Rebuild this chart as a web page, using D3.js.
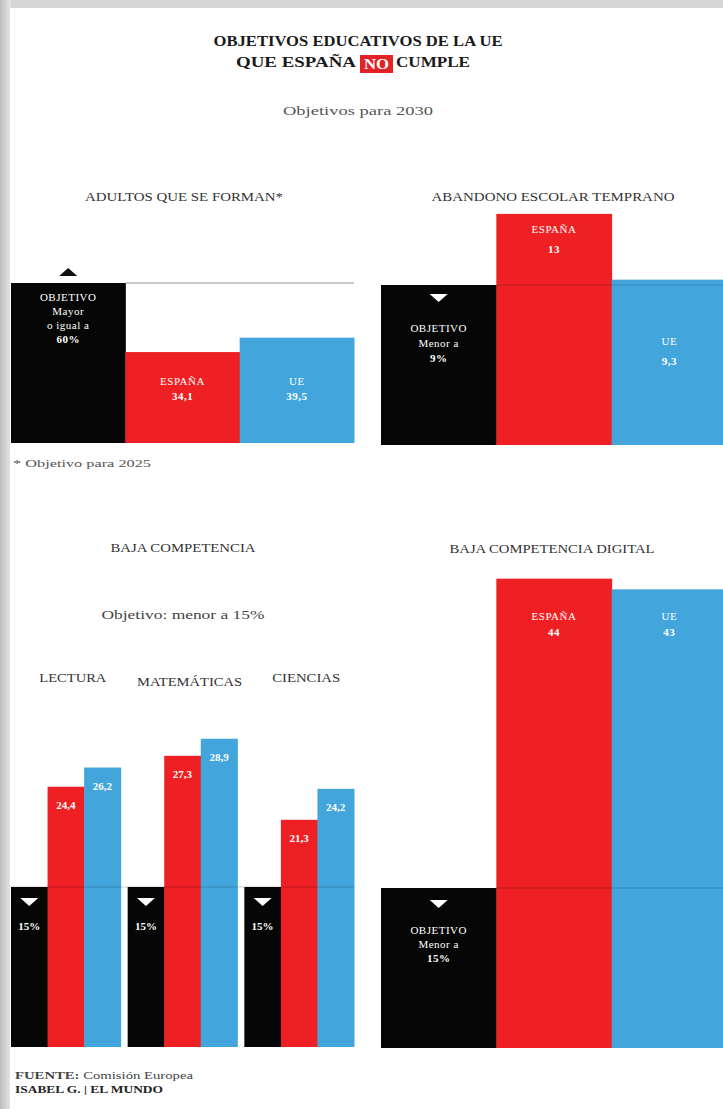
<!DOCTYPE html>
<html lang="es">
<head>
<meta charset="utf-8">
<title>Objetivos educativos de la UE que España no cumple</title>
<script src="https://cdn.jsdelivr.net/npm/d3@7"></script>
<style>
  html, body { margin: 0; padding: 0; background: #d4d4d4; }
  svg { display: block; }
  text { font-family: "Liberation Serif", "DejaVu Serif", serif; }
</style>
</head>
<body>
<svg id="chart" width="723" height="1109"></svg>
<script>
// ---- Data ----
const seriesNames = ["OBJETIVO", "ESPAÑA", "UE"];

// Adultos que se forman (objetivo 2025: mayor o igual a 60%)
const adultosValues = [60, 34.1, 39.5];
// Abandono escolar temprano (objetivo: menor a 9%)
const abandonoValues = [9, 13, 9.3];
// Baja competencia (objetivo: menor a 15%)
const competenciaCats = ["LECTURA", "MATEMÁTICAS", "CIENCIAS"];
const competenciaTarget = [15, 15, 15];
const competenciaEspana = [24.4, 27.3, 21.3];
const competenciaUE = [26.2, 28.9, 24.2];
// Baja competencia digital (objetivo: menor a 15%)
const digitalValues = [15, 44, 43];

const fmt = v => String(v).replace(".", ",");

// ---- Styles ----
const colors = { OBJETIVO: "#060606", "ESPAÑA": "#ee2024", UE: "#42a6dc" };
const svg = d3.select("#chart");

// card with a soft shadow on its left/top edges
const defs = svg.append("defs");
const shadowL = defs.append("linearGradient").attr("id", "shL").attr("x1", 0).attr("x2", 1);
shadowL.append("stop").attr("offset", 0).attr("stop-color", "#bdbdbd");
shadowL.append("stop").attr("offset", 1).attr("stop-color", "#e6e6e6");
svg.append("rect").attr("x", 0).attr("y", 0).attr("width", 723).attr("height", 1109).attr("fill", "#d6d6d6");
svg.append("rect").attr("x", 0).attr("y", 0).attr("width", 11).attr("height", 1109).attr("fill", "url(#shL)");
svg.append("rect").attr("x", 10).attr("y", 8).attr("width", 713).attr("height", 1101).attr("fill", "#ffffff");

// text helper: label fitted to a set width
function label(sel, x, y, txt, o) {
  o = o || {};
  const t = sel.append("text").attr("x", x).attr("y", y)
    .attr("text-anchor", o.anchor || "middle")
    .attr("font-size", o.size || 10)
    .attr("font-weight", o.bold ? "bold" : "normal")
    .attr("fill", o.color || "#333")
    .text(txt);
  if (o.width) t.attr("textLength", o.width).attr("lengthAdjust", "spacingAndGlyphs");
  if (o.ls) t.attr("letter-spacing", o.ls);
  return t;
}

// ---- Title ----
label(svg, 358, 46, "OBJETIVOS EDUCATIVOS DE LA UE", { size: 15, bold: true, color: "#1a1a1a", width: 289 });
svg.append("rect").attr("x", 360).attr("y", 55).attr("width", 33).attr("height", 18).attr("fill", "#e32228");
label(svg, 236, 67, "QUE ESPAÑA", { size: 15, bold: true, color: "#1a1a1a", anchor: "start", width: 120 });
label(svg, 376.5, 68.5, "NO", { size: 14, bold: true, color: "#fff", width: 25 });
label(svg, 396, 67, "CUMPLE", { size: 15, bold: true, color: "#1a1a1a", anchor: "start", width: 74 });
label(svg, 358, 115, "Objetivos para 2030", { size: 13, color: "#555", width: 150 });

function triangle(g, cx, y, up, color) {
  const w = 9, h = 8;
  const p = up ? [[cx - w, y + h], [cx + w, y + h], [cx, y]] : [[cx - w, y], [cx + w, y], [cx, y + h]];
  g.append("path").attr("d", d3.line()(p) + "Z").attr("fill", color);
}
function lines(g, x, y0, arr, dy) {
  arr.forEach((l, i) => label(g, x, y0 + i * dy, l.t, { size: 11, bold: l.bold, color: "#fff", ls: 0.5 }));
}

// Draws a three-bar panel (objetivo, España, UE)
function threeBarPanel(opts) {
  const g = svg.append("g");
  const x = d3.scaleBand().domain(seriesNames).range([opts.x0, opts.x1]).padding(0);
  const y = d3.scaleLinear().domain([0, opts.values[0]]).range([opts.base, opts.base - 160]);
  const data = seriesNames.map((s, i) => ({ s, v: opts.values[i] }));
  g.selectAll("rect.bar").data(data).join("rect").attr("class", "bar")
    .attr("x", d => x(d.s)).attr("width", x.bandwidth() + 0.5)
    .attr("y", d => y(d.v)).attr("height", d => opts.base - y(d.v))
    .attr("fill", d => colors[d.s]);
  // objective reference line
  g.append("line")
    .attr("x1", x("ESPAÑA")).attr("x2", opts.lineEnd)
    .attr("y1", y(opts.values[0])).attr("y2", y(opts.values[0]))
    .attr("stroke", opts.lineColor).attr("stroke-width", 1).attr("stroke-opacity", opts.lineOpacity);
  return { g, x, y };
}

// ---- Panel 1: Adultos que se forman ----
label(svg, 184, 201, "ADULTOS QUE SE FORMAN*", { size: 12, width: 198 });
{
  const { g, x, y } = threeBarPanel({ x0: 11, x1: 354, base: 443, values: adultosValues,
    lineEnd: 354, lineColor: "#999", lineOpacity: 1 });
  const cx = x("OBJETIVO") + x.bandwidth() / 2;
  triangle(g, cx, y(adultosValues[0]) - 15, true, "#111");
  lines(g, cx, y(adultosValues[0]) + 18, [{ t: "OBJETIVO" }, { t: "Mayor" }, { t: "o igual a" }, { t: fmt(adultosValues[0]) + "%", bold: true }], 14);
  lines(g, x("ESPAÑA") + x.bandwidth() / 2, 385, [{ t: "ESPAÑA" }, { t: fmt(adultosValues[1]), bold: true }], 15);
  lines(g, x("UE") + x.bandwidth() / 2, 385, [{ t: "UE" }, { t: fmt(adultosValues[2]), bold: true }], 15);
}
label(svg, 13, 467, "* Objetivo para 2025", { size: 11, color: "#555", anchor: "start", width: 138 });

// ---- Panel 2: Abandono escolar temprano ----
label(svg, 553, 201, "ABANDONO ESCOLAR TEMPRANO", { size: 12, width: 243 });
{
  const { g, x, y } = threeBarPanel({ x0: 381, x1: 727, base: 445, values: abandonoValues,
    lineEnd: 727, lineColor: "#000", lineOpacity: 0.18 });
  const cx = x("OBJETIVO") + x.bandwidth() / 2;
  triangle(g, cx, y(abandonoValues[0]) + 9, false, "#fff");
  lines(g, cx, 332, [{ t: "OBJETIVO" }, { t: "Menor a" }, { t: fmt(abandonoValues[0]) + "%", bold: true }], 15);
  lines(g, x("ESPAÑA") + x.bandwidth() / 2, y(abandonoValues[1]) + 19, [{ t: "ESPAÑA" }, { t: fmt(abandonoValues[1]), bold: true }], 20);
  lines(g, x("UE") + x.bandwidth() / 2, 345, [{ t: "UE" }, { t: fmt(abandonoValues[2]), bold: true }], 20);
}

// ---- Panel 3: Baja competencia ----
label(svg, 183, 552, "BAJA COMPETENCIA", { size: 12, width: 145 });
label(svg, 183, 619, "Objetivo: menor a 15%", { size: 12.5, color: "#444", width: 163 });
{
  const g = svg.append("g");
  const base = 1047;
  const gx = d3.scaleBand().domain(competenciaCats).range([11, 354]).paddingInner(0.06);
  const bx = d3.scaleBand().domain(seriesNames).range([0, gx.bandwidth()]).padding(0);
  const y = d3.scaleLinear().domain([0, 15]).range([base, base - 160]);
  const catWidths = { "LECTURA": 67, "MATEMÁTICAS": 105, "CIENCIAS": 68 };
  const rows = competenciaCats.map((c, i) => ({
    c, vals: [competenciaTarget[i], competenciaEspana[i], competenciaUE[i]]
  }));
  rows.forEach(r => {
    const grp = g.append("g").attr("transform", `translate(${gx(r.c)},0)`);
    const data = seriesNames.map((s, i) => ({ s, v: r.vals[i] }));
    grp.selectAll("rect").data(data).join("rect")
      .attr("x", d => bx(d.s)).attr("width", bx.bandwidth() + 0.5)
      .attr("y", d => y(d.v)).attr("height", d => base - y(d.v))
      .attr("fill", d => colors[d.s]);
    const cx = bx("OBJETIVO") + bx.bandwidth() / 2;
    triangle(grp, cx, y(r.vals[0]) + 11, false, "#fff");
    label(grp, cx, y(r.vals[0]) + 43, fmt(r.vals[0]) + "%", { size: 11, bold: true, color: "#fff" });
    data.slice(1).forEach(d => {
      label(grp, bx(d.s) + bx.bandwidth() / 2, y(d.v) + 22, fmt(d.v), { size: 11, bold: true, color: "#fff" });
    });
    label(svg, gx(r.c) + gx.bandwidth() / 2 + 7, r.c === "MATEMÁTICAS" ? 686 : 682, r.c,
      { size: 12, width: catWidths[r.c] });
  });
  g.append("line").attr("x1", 11).attr("x2", 354).attr("y1", y(15)).attr("y2", y(15))
    .attr("stroke", "#000").attr("stroke-opacity", 0.2);
}

// ---- Panel 4: Baja competencia digital ----
label(svg, 552, 553, "BAJA COMPETENCIA DIGITAL", { size: 12, width: 205 });
{
  const { g, x, y } = threeBarPanel({ x0: 381, x1: 727, base: 1048, values: digitalValues,
    lineEnd: 727, lineColor: "#000", lineOpacity: 0.2 });
  const cx = x("OBJETIVO") + x.bandwidth() / 2;
  triangle(g, cx, y(digitalValues[0]) + 12, false, "#fff");
  lines(g, cx, 934, [{ t: "OBJETIVO" }, { t: "Menor a" }, { t: fmt(digitalValues[0]) + "%", bold: true }], 14);
  lines(g, x("ESPAÑA") + x.bandwidth() / 2, 620, [{ t: "ESPAÑA" }, { t: fmt(digitalValues[1]), bold: true }], 16);
  lines(g, x("UE") + x.bandwidth() / 2, 620, [{ t: "UE" }, { t: fmt(digitalValues[2]), bold: true }], 16);
}

// ---- Footer ----
const f1 = svg.append("text").attr("x", 15).attr("y", 1079).attr("font-size", 11).attr("fill", "#444")
  .attr("textLength", 178).attr("lengthAdjust", "spacingAndGlyphs");
f1.append("tspan").attr("font-weight", "bold").text("FUENTE: ");
f1.append("tspan").text("Comisión Europea");
label(svg, 15, 1093, "ISABEL G. | EL MUNDO", { size: 11, bold: true, color: "#222", anchor: "start", width: 148 });
</script>
</body>
</html>
